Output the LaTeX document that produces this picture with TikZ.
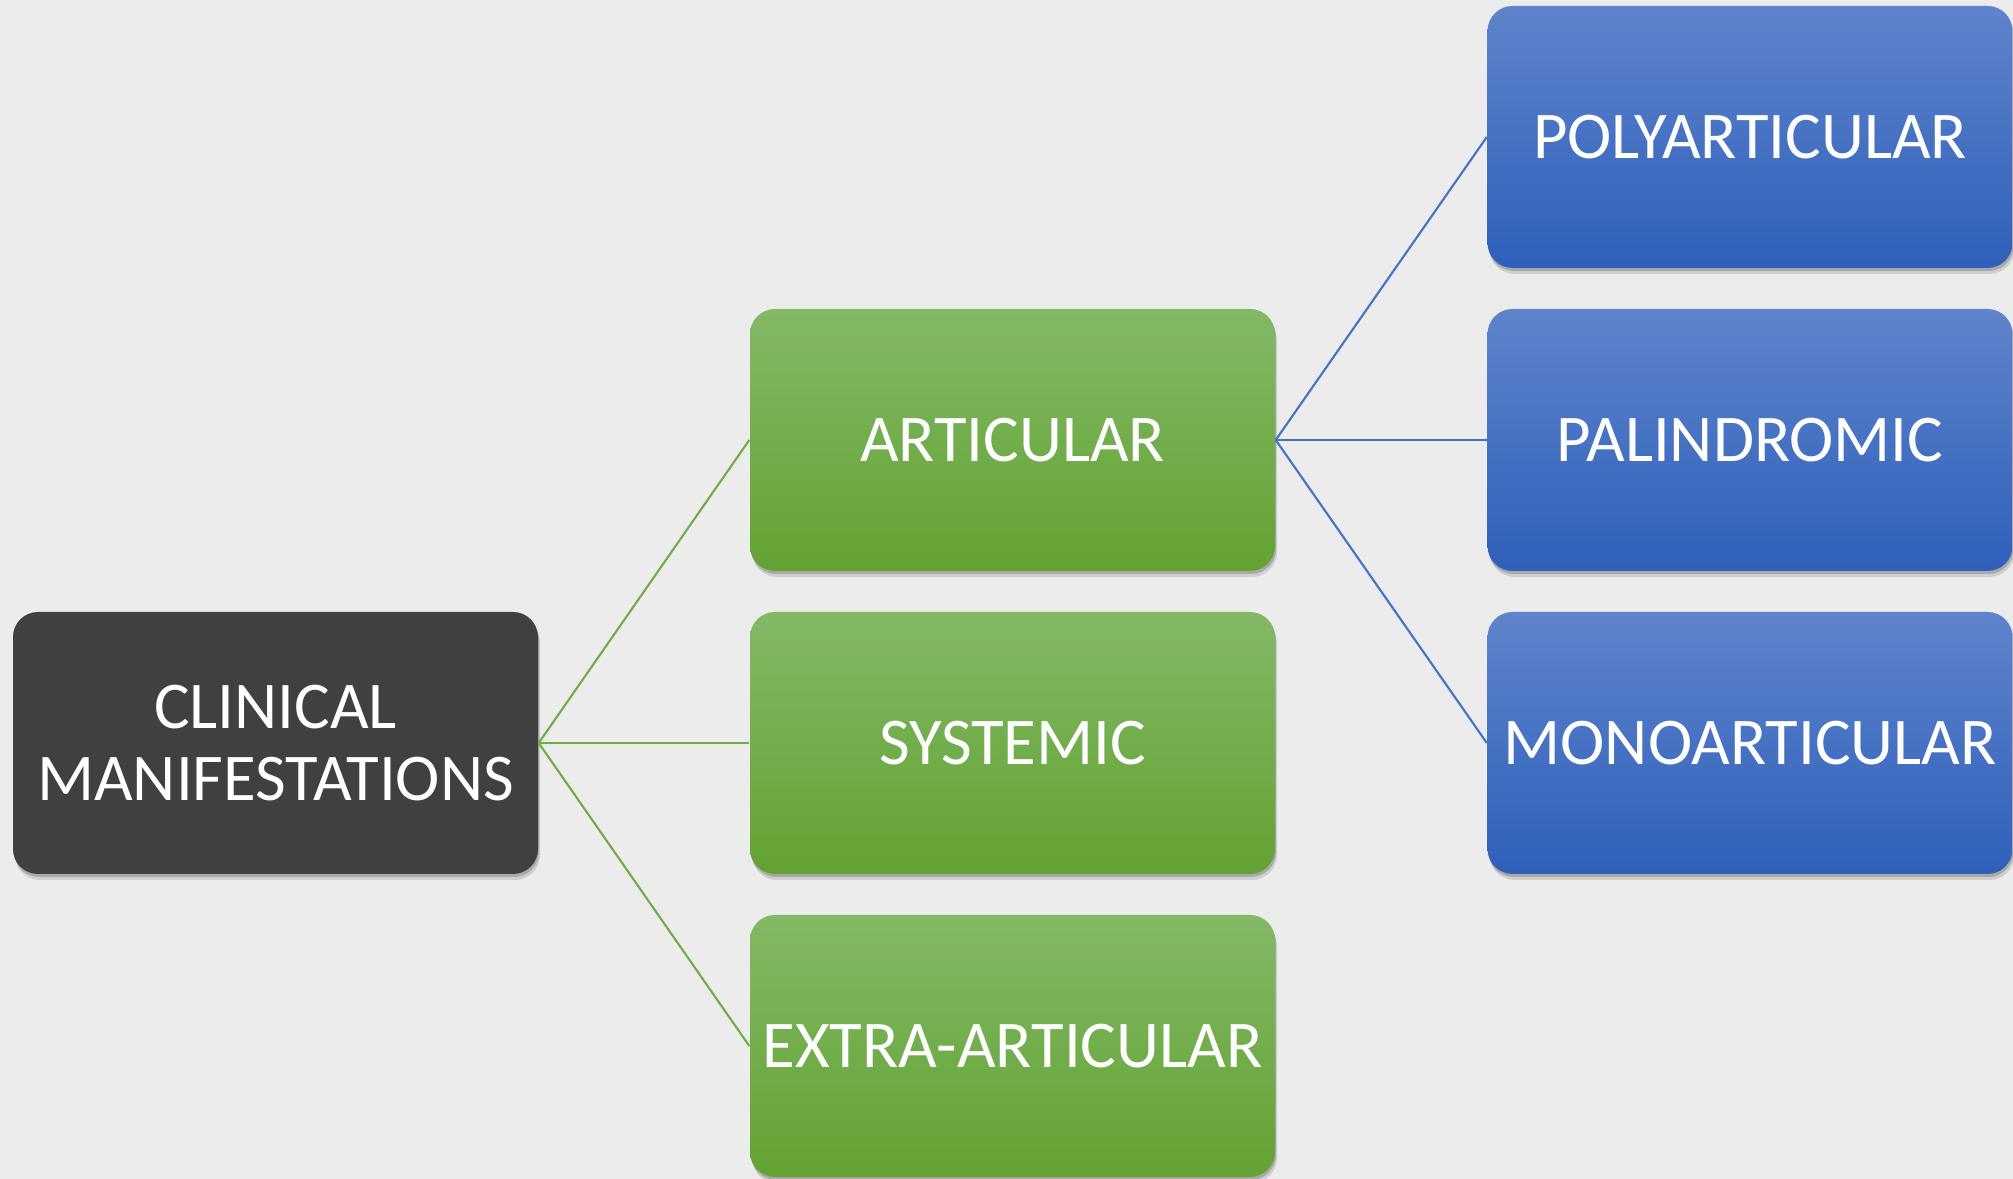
\documentclass[tikz,border=0pt]{standalone}
\usepackage{fontspec}
\setmainfont{Carlito}
\usetikzlibrary{shadows}
\definecolor{bg}{HTML}{ECECEC}
\definecolor{darkbox}{HTML}{404040}
\definecolor{gtop}{HTML}{83B966}
\definecolor{gbot}{HTML}{62A232}
\definecolor{btop}{HTML}{5F84CC}
\definecolor{bbot}{HTML}{2F60BA}
\definecolor{gline}{HTML}{70AD47}
\definecolor{bline}{HTML}{4472C4}
\tikzset{
  boxbase/.style={rounded corners=0.25cm, minimum width=5.25cm, minimum height=2.62cm,
    inner sep=0pt, align=center, text=white,
    font=\fontsize{19}{20.5}\selectfont,
    general shadow={shadow xshift=0.02cm, shadow yshift=-0.06cm, opacity=0.12, fill=black},
    general shadow={shadow xshift=0.01cm, shadow yshift=-0.03cm, opacity=0.18, fill=black}},
  darkstyle/.style={boxbase, fill=darkbox},
  greenstyle/.style={boxbase, top color=gtop, bottom color=gbot},
  bluestyle/.style={boxbase, top color=btop, bottom color=bbot},
  gconn/.style={draw=gline, line width=0.6pt},
  bconn/.style={draw=bline, line width=0.6pt}
}
\begin{document}
\begin{tikzpicture}
\fill[bg] (0,0) rectangle (20.13,11.79);
\useasboundingbox (0,0) rectangle (20.13,11.79);
\node[darkstyle] (clin) at (2.755,4.36) {CLINICAL\\MANIFESTATIONS};
\node[greenstyle] (art) at (10.125,7.39) {ARTICULAR};
\node[greenstyle] (sys) at (10.125,4.36) {SYSTEMIC};
\node[greenstyle] (ext) at (10.125,1.33) {EXTRA-ARTICULAR};
\node[bluestyle] (poly) at (17.50,10.42) {POLYARTICULAR};
\node[bluestyle] (pal) at (17.50,7.39) {PALINDROMIC};
\node[bluestyle] (mono) at (17.50,4.36) {MONOARTICULAR};
\draw[gconn] (clin.east) -- (art.west);
\draw[gconn] (clin.east) -- (sys.west);
\draw[gconn] (clin.east) -- (ext.west);
\draw[bconn] (art.east) -- (poly.west);
\draw[bconn] (art.east) -- (pal.west);
\draw[bconn] (art.east) -- (mono.west);
\end{tikzpicture}
\end{document}
